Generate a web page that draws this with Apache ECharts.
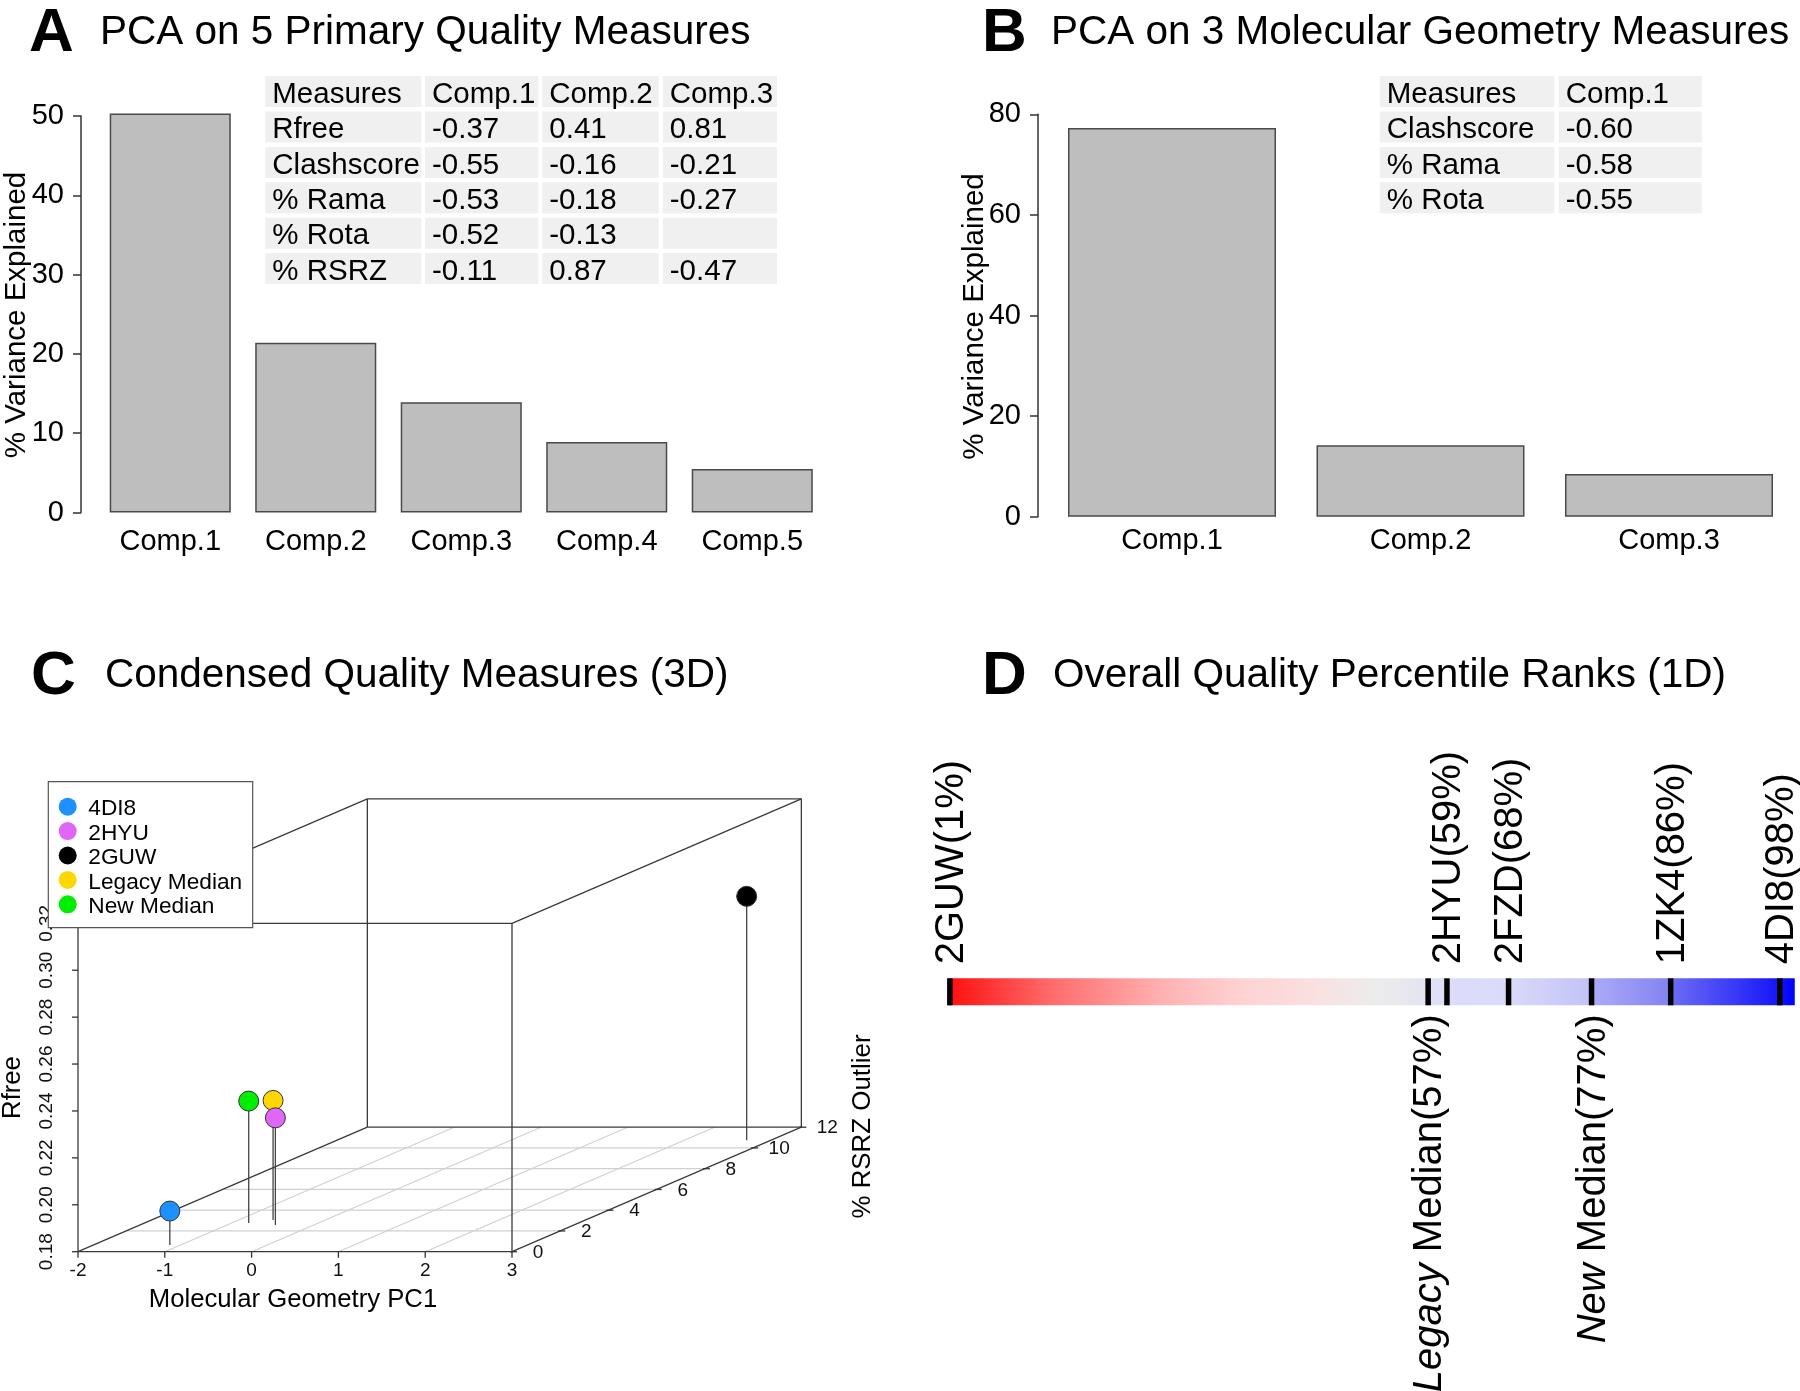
<!DOCTYPE html>
<html><head><meta charset="utf-8">
<script src="https://cdn.jsdelivr.net/npm/echarts@6/dist/echarts.min.js"></script>
<style>html,body{margin:0;padding:0;background:#fff}#c{width:1800px;height:1391px}</style>
</head><body><div id="c"></div>
<script>
// ================= DATA =================
// Panel A
const compsA = ['Comp.1','Comp.2','Comp.3','Comp.4','Comp.5'];
const varA = [50.3, 21.4, 13.9, 8.9, 5.5];
const yTicksA = [0, 10, 20, 30, 40, 50];
const tableAHeader = ['Measures','Comp.1','Comp.2','Comp.3'];
const tableAMeasures = ['Rfree','Clashscore','% Rama','% Rota','% RSRZ'];
const tableAComp1 = ['-0.37','-0.55','-0.53','-0.52','-0.11'];
const tableAComp2 = ['0.41','-0.16','-0.18','-0.13','0.87'];
const tableAComp3 = ['0.81','-0.21','-0.27','','-0.47'];
// Panel B
const compsB = ['Comp.1','Comp.2','Comp.3'];
const varB = [77.3, 14.2, 8.5];
const yTicksB = [0, 20, 40, 60, 80];
const tableBHeader = ['Measures','Comp.1'];
const tableBMeasures = ['Clashscore','% Rama','% Rota'];
const tableBComp1 = ['-0.60','-0.58','-0.55'];
// Panel C (3D scatter)
const pdbNames = ['4DI8','2HYU','2GUW','Legacy Median','New Median'];
const pc1Vals  = [-1.12, -0.44, 2.72, -0.60, -0.80];
const rsrzVals = [0.64, 2.57, 10.74, 3.05, 2.76];
const rfreeVals= [0.1945, 0.2257, 0.284, 0.231, 0.232];
const pc1Ticks = [-2, -1, 0, 1, 2, 3];
const rsrzTicks = [0, 2, 4, 6, 8, 10, 12];
const rfreeTicks = [0.18, 0.20, 0.22, 0.24, 0.26, 0.28, 0.30, 0.32];
// Panel D (1D percentile ranks)
const dNames = ['2GUW','Legacy Median','2HYU','2FZD','New Median','1ZK4','4DI8'];
const dPct   = [1, 57, 59, 68, 77, 86, 98];
const dPos   = [1.0, 56.9, 59.1, 66.3, 76.0, 85.25, 98.0];
const dSide  = ['top','bottom','top','top','bottom','top','top'];
const dItalicWord = ['', 'Legacy', '', '', 'New', '', ''];
const dBarRange = [0.75, 99.75];

// ================= STYLE =================
const FONT = '"Liberation Sans", Arial, Helvetica, sans-serif';
const pdbColors = ['#1E90FF', '#E066F5', '#000000', '#FFD700', '#00EE00'];
const barFill = '#BEBEBE', barEdge = '#4a4a4a';
const gradStops = [[1,'#FF1010'],[12.7,'#FF6A6A'],[25.5,'#FFB0B0'],[35,'#FFD2D2'],[44.7,'#F8E2E2'],
  [51,'#ECECEC'],[56.5,'#E4E4F2'],[59.2,'#DCDCFA'],[66.3,'#DADAFA'],[75.9,'#C2C2F8'],[76.1,'#ABABF8'],
  [85.2,'#8282F2'],[85.4,'#6C6CF4'],[97.5,'#1818F8'],[99.75,'#0000FF']];
const AXIS_FS = 29, TABLE_FS = 29.5, TITLE_FS = 40.5, LETTER_FS = 62;

// 3D oblique projection (scatterplot3d-like): depth adds KX PC1-units right and KY Rfree-units up
const KX = 0.2778, KY = 0.004423;
const PX_PER_X = 86.8, PX_PER_R = 2345.7;
function proj(x, d, r) { return [x + d * KX, r + d * KY]; }
const X0 = pc1Ticks[0], X1 = pc1Ticks[pc1Ticks.length-1];
const D0 = rsrzTicks[0], D1 = rsrzTicks[rsrzTicks.length-1];
const R0 = rfreeTicks[0], R1 = rfreeTicks[rfreeTicks.length-1];
const cXMax = X1 + D1 * KX, cYMax = R1 + D1 * KY;
const cW = (cXMax - X0) * PX_PER_X, cH = (cYMax - R0) * PX_PER_R;
const cLeft = 78, cBottomY = 1251.7;

// frame items: [x1,d1,r1,x2,d2,r2,type]
const frame = [];
rsrzTicks.slice(1, -1).forEach(d => frame.push([X0, d, R0, X1, d, R0, 0]));
pc1Ticks.slice(1, -1).forEach(x => frame.push([x, D0, R0, x, D1, R0, 0]));
for (const d of [D0, D1]) for (const r of [R0, R1]) frame.push([X0, d, r, X1, d, r, 1]);
for (const x of [X0, X1]) for (const r of [R0, R1]) frame.push([x, D0, r, x, D1, r, 1]);
for (const x of [X0, X1]) for (const d of [D0, D1]) frame.push([x, d, R0, x, d, R1, 1]);

// tick items: [axisType, value]
const cTicks = [];
pc1Ticks.forEach(v => cTicks.push([0, v]));
rfreeTicks.forEach(v => cTicks.push([1, v]));
rsrzTicks.forEach(v => cTicks.push([2, v]));

const cPoints = pc1Vals.map((v, i) => [v, rsrzVals[i], rfreeVals[i], i]);

// ================= GRAPHICS (titles, tables, legend, axis names) =================
const graphics = [];
function addText(x, y, text, style, extra) {
  graphics.push(Object.assign({ type: 'text', x: x, y: y, z: 50,
    style: Object.assign({ text: text, fontFamily: FONT, fontSize: AXIS_FS, fill: '#000', align: 'left', verticalAlign: 'middle' }, style || {}) }, extra || {}));
}
// Titles
[['A', 'PCA on 5 Primary Quality Measures', 29, 100, 32.5],
 ['B', 'PCA on 3 Molecular Geometry Measures', 982, 1051, 32.5],
 ['C', 'Condensed Quality Measures (3D)', 31, 105, 675.5],
 ['D', 'Overall Quality Percentile Ranks (1D)', 982, 1053, 675.5]].forEach(t => {
  addText(t[2], t[4] + 1, t[0], { fontSize: LETTER_FS, fontWeight: 'bold' });
  addText(t[3], t[4], t[1], { fontSize: TITLE_FS });
});
// Tables
function addTable(header, cols, colX, colW, rowY0) {
  const rowH = 31, pitch = 35.4;
  const nRows = cols[0].length + 1;
  for (let r = 0; r < nRows; r++) {
    for (let c = 0; c < header.length; c++) {
      const y = rowY0 + r * pitch;
      graphics.push({ type: 'rect', z: 40, shape: { x: colX[c], y: y, width: colW[c], height: rowH }, style: { fill: '#F0F0F0' } });
      const t = r === 0 ? header[c] : cols[c][r - 1];
      if (t) addText(colX[c] + 7, y + rowH / 2 + 3, t, { fontSize: TABLE_FS });
    }
  }
}
addTable(tableAHeader, [tableAMeasures, tableAComp1, tableAComp2, tableAComp3],
  [265.3, 425, 542.3, 662.8], [156.1, 113.3, 116.4, 114.2], 76.1);
addTable(tableBHeader, [tableBMeasures, tableBComp1], [1379.8, 1558.7], [174.5, 143], 76.1);
// Axis titles A/B
addText(17, 315, '% Variance Explained', { fontSize: TABLE_FS, align: 'center' }, { rotation: Math.PI / 2 });
addText(975, 316.5, '% Variance Explained', { fontSize: TABLE_FS, align: 'center' }, { rotation: Math.PI / 2 });
// Axis titles C
addText(293, 1300, 'Molecular Geometry PC1', { fontSize: 25.7, align: 'center' });
addText(13, 1087.5, 'Rfree', { fontSize: 25.7, align: 'center' }, { rotation: Math.PI / 2 });
addText(863, 1126.5, '% RSRZ Outlier', { fontSize: 25.9, align: 'center' }, { rotation: Math.PI / 2 });
// Legend C
graphics.push({ type: 'rect', z: 60, shape: { x: 48.3, y: 781.7, width: 204.4, height: 146 },
  style: { fill: '#fff', stroke: '#555', lineWidth: 1.2 } });
pdbNames.forEach((n, i) => {
  const y = 806.7 + i * 24.4;
  graphics.push({ type: 'circle', z: 61, shape: { cx: 67.7, cy: y, r: 9 }, style: { fill: pdbColors[i] } });
  graphics.push({ type: 'text', z: 61, x: 88.3, y: y + 2.5, style: { text: n, fontFamily: FONT, fontSize: 22.7, fill: '#000', align: 'left', verticalAlign: 'middle' } });
});

// ================= OPTION =================
function barYAxis(gridIndex, max, interval, offset) {
  return { type: 'value', gridIndex: gridIndex, min: 0, max: max, interval: interval, offset: offset,
    axisLine: { show: true, lineStyle: { color: '#333', width: 1.5 } },
    axisTick: { show: true, length: 8, lineStyle: { color: '#333', width: 1.5 } },
    axisLabel: { fontSize: AXIS_FS, fontFamily: FONT, color: '#000', margin: 17 },
    splitLine: { show: false } };
}
function catXAxis(gridIndex, data, margin) {
  return { type: 'category', gridIndex: gridIndex, data: data,
    axisLine: { show: false }, axisTick: { show: false },
    axisLabel: { fontSize: AXIS_FS, fontFamily: FONT, color: '#000', margin: margin } };
}
const barStyle = { color: barFill, borderColor: barEdge, borderWidth: 1.5 };

const option = {
  animation: false,
  backgroundColor: '#ffffff',
  grid: [
    { left: 97.5, top: 116, width: 727.5, height: 396.5, containLabel: false, outerBoundsMode: 'none' },
    { left: 1047.75, top: 114.3, width: 745.5, height: 402.5, containLabel: false, outerBoundsMode: 'none' },
    { left: cLeft, top: cBottomY - cH, width: cW, height: cH, containLabel: false, outerBoundsMode: 'none' },
    { left: 941.3, top: 978.3, width: 855.6, height: 27, containLabel: false, outerBoundsMode: 'none' }
  ],
  xAxis: [
    catXAxis(0, compsA, 15),
    catXAxis(1, compsB, 10),
    { type: 'value', gridIndex: 2, min: X0, max: cXMax, show: false },
    { type: 'value', gridIndex: 3, min: 0, max: 100, show: false }
  ],
  yAxis: [
    barYAxis(0, yTicksA[yTicksA.length-1], yTicksA[1] - yTicksA[0], 16.5),
    barYAxis(1, yTicksB[yTicksB.length-1], yTicksB[1] - yTicksB[0], 9.75),
    { type: 'value', gridIndex: 2, min: R0, max: cYMax, show: false },
    { type: 'value', gridIndex: 3, min: 0, max: 1, show: false }
  ],
  series: [
    { type: 'bar', xAxisIndex: 0, yAxisIndex: 0, data: varA, barCategoryGap: '16.8%', itemStyle: barStyle, clip: false, silent: true },
    { type: 'bar', xAxisIndex: 1, yAxisIndex: 1, data: varB, barCategoryGap: '16.3%', itemStyle: barStyle, clip: false, silent: true },
    // C: base grid + box
    { type: 'custom', xAxisIndex: 2, yAxisIndex: 2, data: frame, z: 2, silent: true,
      renderItem: function (params, api) {
        const a = api.coord(proj(api.value(0), api.value(1), api.value(2)));
        const b = api.coord(proj(api.value(3), api.value(4), api.value(5)));
        const t = api.value(6);
        return { type: 'line', z2: t ? 5 : 1, shape: { x1: a[0], y1: a[1], x2: b[0], y2: b[1] },
          style: { stroke: t ? '#3a3a3a' : '#d0d0d0', lineWidth: t ? 1.3 : 1.2 } };
      } },
    // C: ticks + tick labels
    { type: 'custom', xAxisIndex: 2, yAxisIndex: 2, data: cTicks, z: 3, silent: true,
      renderItem: function (params, api) {
        const k = api.value(0), v = api.value(1);
        const ts = { fontFamily: FONT, fontSize: 19, fill: '#111', align: 'center', verticalAlign: 'middle' };
        let p, tick, label;
        if (k === 0) {
          p = api.coord(proj(v, D0, R0));
          tick = { x1: p[0], y1: p[1], x2: p[0], y2: p[1] + 6 };
          label = { type: 'text', x: p[0], y: p[1] + 19, style: Object.assign({ text: String(v) }, ts) };
        } else if (k === 1) {
          p = api.coord(proj(X0, D0, v));
          tick = { x1: p[0], y1: p[1], x2: p[0] - 6, y2: p[1] };
          label = { type: 'text', x: p[0] - 31.5, y: p[1], rotation: Math.PI / 2, style: Object.assign({ text: v.toFixed(2) }, ts) };
        } else {
          p = api.coord(proj(X1, v, R0));
          tick = { x1: p[0] - 2, y1: p[1], x2: p[0] + 5, y2: p[1] };
          label = { type: 'text', x: p[0] + 26, y: p[1] + 1, style: Object.assign({ text: String(v) }, ts) };
        }
        return { type: 'group', children: [
          { type: 'line', shape: tick, style: { stroke: '#333', lineWidth: 1.3 } }, label ] };
      } },
    // C: stems
    { type: 'custom', xAxisIndex: 2, yAxisIndex: 2, data: cPoints, z: 4, silent: true,
      renderItem: function (params, api) {
        const x = api.value(0), d = api.value(1), r = api.value(2);
        const p = api.coord(proj(x, d, r)), b = api.coord(proj(x, d, R0));
        return { type: 'line', shape: { x1: p[0], y1: p[1], x2: b[0], y2: b[1] }, style: { stroke: '#444', lineWidth: 1.3 } };
      } },
    // C: points
    { type: 'custom', xAxisIndex: 2, yAxisIndex: 2, data: cPoints, z: 5, silent: true,
      renderItem: function (params, api) {
        const x = api.value(0), d = api.value(1), r = api.value(2), i = api.value(3);
        const p = api.coord(proj(x, d, r));
        return { type: 'circle', z2: Math.round(1000 - d * 20), shape: { cx: p[0], cy: p[1], r: 10 },
          style: { fill: pdbColors[i], stroke: '#333', lineWidth: 1 } };
      } },
    // D: colour bar
    { type: 'custom', xAxisIndex: 3, yAxisIndex: 3, data: [dBarRange], z: 2, silent: true,
      renderItem: function (params, api) {
        const s = api.value(0), e = api.value(1);
        const a = api.coord([s, 1]), b = api.coord([e, 0]);
        const stops = gradStops.map(g => ({ offset: Math.min(1, Math.max(0, (g[0] - s) / (e - s))), color: g[1] }));
        return { type: 'rect', shape: { x: a[0], y: a[1], width: b[0] - a[0], height: b[1] - a[1] },
          style: { fill: new echarts.graphic.LinearGradient(0, 0, 1, 0, stops) } };
      } },
    // D: markers + labels
    { type: 'custom', xAxisIndex: 3, yAxisIndex: 3, data: dPos.map((p, i) => [p, i]), z: 3, silent: true,
      renderItem: function (params, api) {
        const i = api.value(1);
        const top = api.coord([api.value(0), 1]), bot = api.coord([api.value(0), 0]);
        const it = dItalicWord[i];
        const text = it ? '{i|' + it + '}' + dNames[i].slice(it.length) + '(' + dPct[i] + '%)' : dNames[i] + '(' + dPct[i] + '%)';
        const up = dSide[i] === 'top';
        return { type: 'group', children: [
          { type: 'rect', shape: { x: top[0] - 2.75, y: top[1], width: 5.5, height: bot[1] - top[1] }, style: { fill: '#000' } },
          { type: 'text', x: top[0] + 2, y: up ? top[1] - 14 : bot[1] + 9, rotation: Math.PI / 2,
            style: { text: text, fontFamily: FONT, fontSize: 40, fill: '#000', align: up ? 'left' : 'right', verticalAlign: 'middle',
              rich: { i: { fontStyle: 'italic', fontFamily: FONT, fontSize: 40, fill: '#000' } } } }
        ] };
      } }
  ],
  graphic: graphics
};

const chart = echarts.init(document.getElementById('c'), null, { renderer: 'canvas' });
chart.setOption(option);
</script>
</body></html>
